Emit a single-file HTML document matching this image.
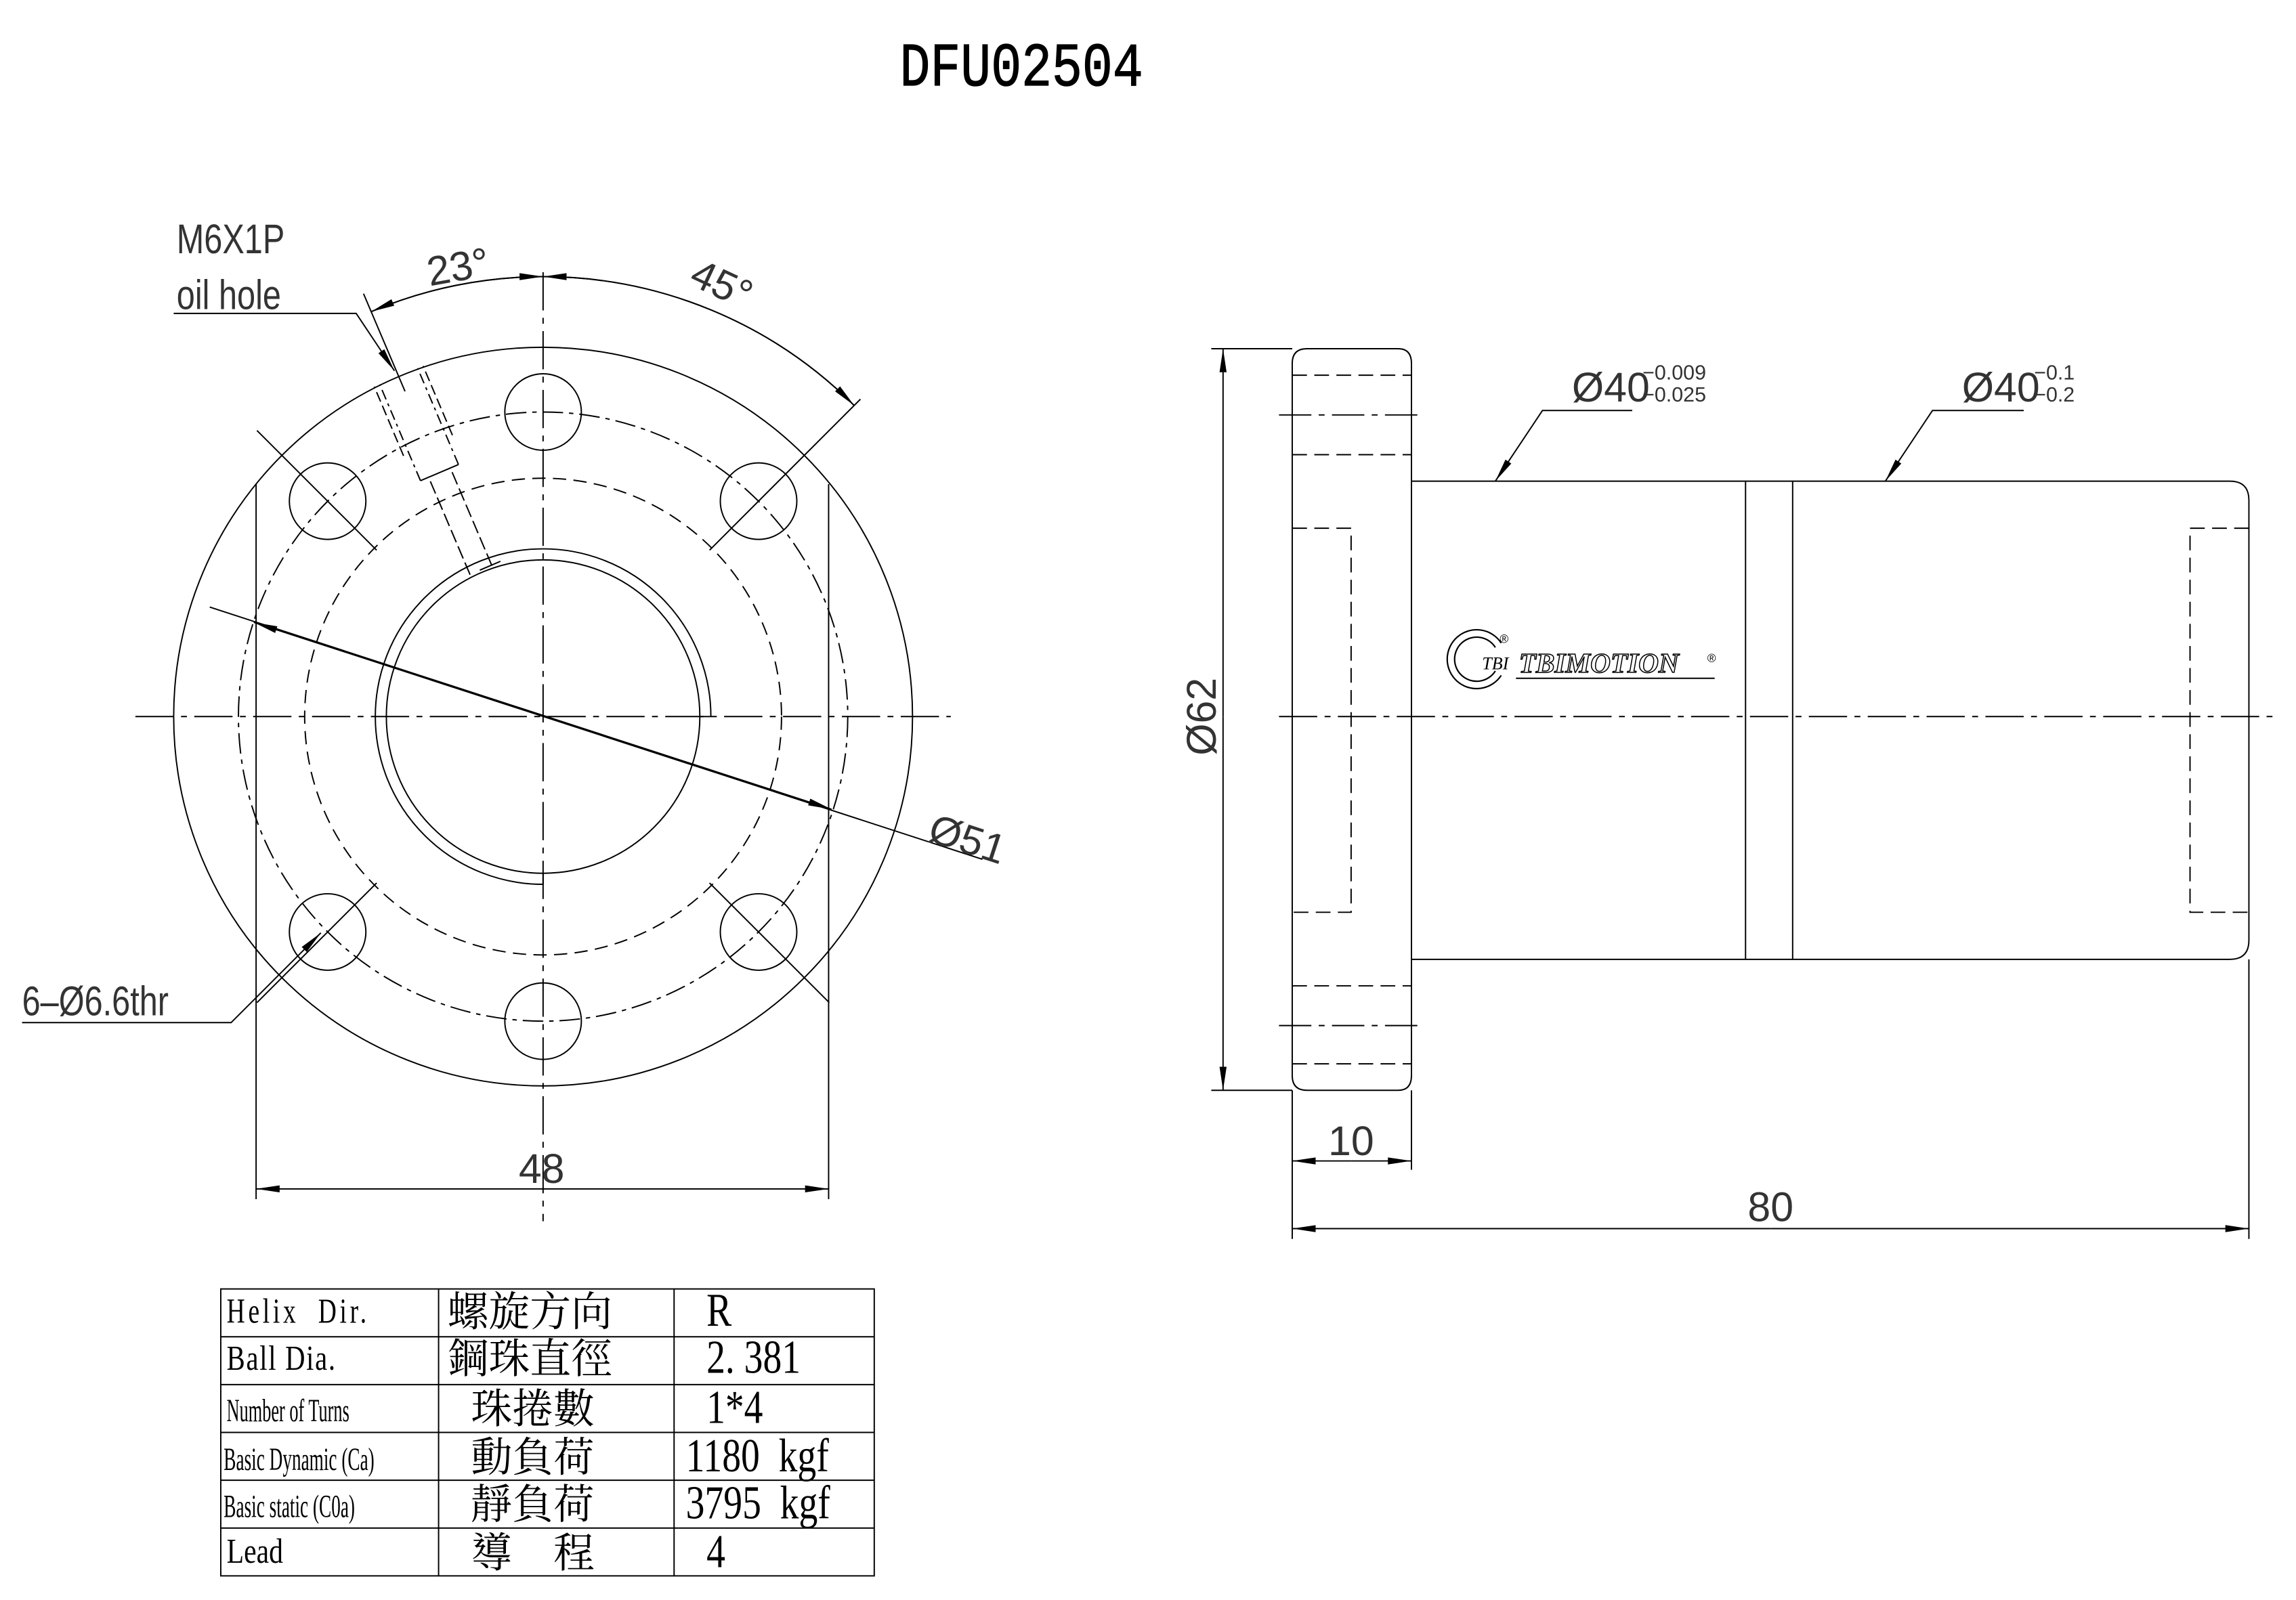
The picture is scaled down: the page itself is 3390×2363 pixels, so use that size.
<!DOCTYPE html>
<html><head><meta charset="utf-8">
<style>
html,body{margin:0;padding:0;background:#fff;}
svg{display:block;}
text{white-space:pre;}
.c{font-family:"Liberation Sans Narrow","Liberation Sans",sans-serif;fill:#333;}
.t{font-family:"Liberation Serif","Noto Serif CJK TC",serif;fill:#000;}
.k{font-family:"Liberation Serif","Noto Serif CJK TC","Noto Sans CJK TC",serif;fill:#000;}
</style></head><body>
<svg width="3390" height="2363" viewBox="0 0 1560 1087.4" preserveAspectRatio="none" xmlns="http://www.w3.org/2000/svg" xml:space="preserve">
<defs>
<marker id="a" viewBox="0 0 16 6" refX="16" refY="3" markerWidth="16" markerHeight="6" markerUnits="userSpaceOnUse" orient="auto-start-reverse">
<path d="M0,0.6 L16,3 L0,5.4 Z" fill="#000"/></marker>
</defs>
<rect width="1560" height="1088" fill="#fff"/>
<text x="694" y="58" text-anchor="middle" font-family="Liberation Mono,monospace" font-size="42" fill="#000" stroke="#000" stroke-width="0.6" transform="translate(694 0) scale(0.82 1) translate(-694 0)">DFU02504</text>

<g fill="none" stroke="#000" stroke-width="0.9">
<circle cx="369" cy="487" r="251"/>
<circle cx="369" cy="487" r="207" stroke-dasharray="14 4 3 4"/>
<circle cx="369" cy="487" r="162" stroke-dasharray="9 5"/>
<circle cx="369" cy="487" r="106.5"/>
<path d="M369,601 A114,114 0 1 1 483,487"/>
<line x1="369" y1="601" x2="369" y2="594"/>
<line x1="476" y1="487" x2="483" y2="487"/>
<circle cx="369" cy="280" r="26"/>
<circle cx="369" cy="694" r="26"/>
<circle cx="222.6" cy="340.6" r="26"/>
<circle cx="515.4" cy="340.6" r="26"/>
<circle cx="222.6" cy="633.4" r="26"/>
<circle cx="515.4" cy="633.4" r="26"/>
<line x1="174" y1="329" x2="174" y2="815"/>
<line x1="563" y1="329" x2="563" y2="815"/>
<line x1="92" y1="487" x2="646" y2="487" stroke-dasharray="26 5 4 5"/>
<line x1="369" y1="185" x2="369" y2="830" stroke-dasharray="26 5 4 5"/>
<line x1="255.9" y1="373.9" x2="174.6" y2="292.6"/>
<line x1="482.1" y1="373.9" x2="584.6" y2="271.3"/>
<line x1="255.9" y1="600.1" x2="174.6" y2="681.4"/>
<line x1="482.1" y1="600.1" x2="563.4" y2="681.4"/>
<line x1="285.7" y1="326.7" x2="258" y2="261.3" stroke-dasharray="7 3 2 3"/>
<line x1="311.5" y1="315.7" x2="283.8" y2="250.3" stroke-dasharray="7 3 2 3"/>
<line x1="274.2" y1="309.8" x2="254.3" y2="262.8" stroke-dasharray="7 3"/>
<line x1="307.4" y1="295.8" x2="287.5" y2="248.8" stroke-dasharray="7 3"/>
<line x1="319.4" y1="390.6" x2="291.2" y2="324.3" stroke-dasharray="9 3"/>
<line x1="334.2" y1="384.4" x2="306" y2="318.1" stroke-dasharray="9 3"/>
<line x1="285.7" y1="326.7" x2="311.5" y2="315.7"/>
<line x1="275.2" y1="266" x2="247" y2="199.6"/>
<line x1="326" y1="387.5" x2="340" y2="381.5"/>
<path d="M369,188 A299,299 0 0 0 252.2,211.8" marker-end="url(#a)"/>
<path d="M252.2,211.8 A299,299 0 0 1 369,188" marker-end="url(#a)"/>
<path d="M580.4,275.6 A299,299 0 0 0 369,188" marker-end="url(#a)"/>
<path d="M369,188 A299,299 0 0 1 580.4,275.6" marker-end="url(#a)"/>
<polyline points="118,213 242,213 268,252" marker-end="url(#a)"/>
<line x1="667.5" y1="584" x2="172.5" y2="423" marker-end="url(#a)"/>
<line x1="142.5" y1="412.6" x2="565" y2="550" marker-end="url(#a)"/>
<polyline points="15,695 157,695 218,634" marker-end="url(#a)"/>
<line x1="369" y1="808" x2="174" y2="808" marker-end="url(#a)"/>
<line x1="369" y1="808" x2="563" y2="808" marker-end="url(#a)"/>

<path d="M888,237 H950 Q959,237 959,247 V731 Q959,741 950,741 H888 Q878,741 878,731 V247 Q878,237 888,237 Z"/>
<path d="M959,327 H1515 Q1528,327 1528,340 V639 Q1528,652 1515,652 H959"/>
<line x1="1186" y1="327" x2="1186" y2="652"/>
<line x1="1218" y1="327" x2="1218" y2="652"/>
<line x1="878" y1="255" x2="959" y2="255" stroke-dasharray="10 5"/>
<line x1="869" y1="282" x2="967" y2="282" stroke-dasharray="22 5 4 5"/>
<line x1="878" y1="309" x2="959" y2="309" stroke-dasharray="10 5"/>
<line x1="878" y1="670" x2="959" y2="670" stroke-dasharray="10 5"/>
<line x1="869" y1="697" x2="967" y2="697" stroke-dasharray="22 5 4 5"/>
<line x1="878" y1="723" x2="959" y2="723" stroke-dasharray="10 5"/>
<polyline points="878,359 918,359 918,620 878,620" stroke-dasharray="10 5"/>
<polyline points="1528,359 1488,359 1488,620 1528,620" stroke-dasharray="10 5"/>
<line x1="869" y1="487" x2="1545" y2="487" stroke-dasharray="26 5 4 5"/>
<line x1="823" y1="237" x2="878" y2="237"/>
<line x1="823" y1="741" x2="878" y2="741"/>
<line x1="831" y1="487" x2="831" y2="237" marker-end="url(#a)"/>
<line x1="831" y1="487" x2="831" y2="741" marker-end="url(#a)"/>
<polyline points="1109,279 1048,279 1016,327" marker-end="url(#a)"/>
<polyline points="1375,279 1313,279 1281,327" marker-end="url(#a)"/>
<line x1="878" y1="741" x2="878" y2="842"/>
<line x1="959" y1="741" x2="959" y2="795"/>
<line x1="1528" y1="652" x2="1528" y2="842"/>
<line x1="918" y1="789" x2="878" y2="789" marker-end="url(#a)"/>
<line x1="918" y1="789" x2="959" y2="789" marker-end="url(#a)"/>
<line x1="1203" y1="835" x2="878" y2="835" marker-end="url(#a)"/>
<line x1="1203" y1="835" x2="1528" y2="835" marker-end="url(#a)"/>
<path d="M1020,437 A20,20 0 1 0 1020,459" stroke-width="1"/>
<path d="M1016,440 A15,15 0 1 0 1016,456" stroke-width="1"/>
<line x1="1030" y1="461" x2="1165" y2="461"/>

<rect x="150" y="876" width="444" height="195"/>
<line x1="298" y1="876" x2="298" y2="1071"/>
<line x1="458" y1="876" x2="458" y2="1071"/>
<line x1="150" y1="908.5" x2="594" y2="908.5"/>
<line x1="150" y1="941" x2="594" y2="941"/>
<line x1="150" y1="973.5" x2="594" y2="973.5"/>
<line x1="150" y1="1006" x2="594" y2="1006"/>
<line x1="150" y1="1038.5" x2="594" y2="1038.5"/>
</g>

<g class="c" font-size="28">
<text x="120" y="172" transform="translate(120 0) scale(0.8 1) translate(-120 0)">M6X1P</text>
<text x="120" y="210" transform="translate(120 0) scale(0.8 1) translate(-120 0)">oil hole</text>
<text x="290" y="192" transform="rotate(-10 305 182)">23°</text>
<text x="470" y="200" transform="rotate(25 485 190)">45°</text>
<text x="632" y="578" transform="rotate(18 652 566)">Ø51</text>
<text x="15" y="690" transform="translate(15 0) scale(0.8 1) translate(-15 0)">6–Ø6.6thr</text>
<text x="368" y="804" text-anchor="middle">48</text>
<text x="918" y="785" text-anchor="middle">10</text>
<text x="1203" y="830" text-anchor="middle">80</text>
<text x="826" y="487" text-anchor="middle" transform="rotate(-90 826 487)">Ø62</text>
<text x="1068" y="273">Ø40</text>
<text x="1333" y="273">Ø40</text>
</g>
<g class="c" font-size="14">
<text x="1116" y="258">−0.009</text>
<text x="1116" y="273">−0.025</text>
<text x="1382" y="258">−0.1</text>
<text x="1382" y="273">−0.2</text>
</g>
<text x="1007" y="455" font-family="Liberation Serif,serif" font-size="12" font-style="italic" fill="#000">TBI</text>
<text x="1032" y="457" font-family="Liberation Serif,serif" font-size="19" font-style="italic" font-weight="bold" fill="#fff" stroke="#000" stroke-width="0.7">TBIMOTION</text>
<text x="1160" y="450" font-size="8" font-family="Liberation Sans,sans-serif">®</text>
<text x="1019" y="437" font-size="8" font-family="Liberation Sans,sans-serif">®</text>

<g class="t" font-size="24">
<text x="154" y="899" transform="translate(154 0) scale(0.72 1) translate(-154 0)" letter-spacing="3">Helix  Dir.</text>
<text x="154" y="931" transform="translate(154 0) scale(0.78 1) translate(-154 0)" letter-spacing="1">Ball Dia.</text>
<text x="154" y="966" font-size="22" transform="translate(154 0) scale(0.55 1) translate(-154 0)">Number of Turns</text>
<text x="152" y="999" font-size="22" transform="translate(152 0) scale(0.57 1) translate(-152 0)">Basic Dynamic (Ca)</text>
<text x="152" y="1031" font-size="22" transform="translate(152 0) scale(0.57 1) translate(-152 0)">Basic static (C0a)</text>
<text x="154" y="1062" transform="translate(154 0) scale(0.8 1) translate(-154 0)">Lead</text>
</g>
<g class="k" font-size="28">
<text x="304" y="901">螺旋方向</text>
<text x="304" y="933">鋼珠直徑</text>
<text x="320" y="967">珠捲數</text>
<text x="320" y="1000">動負荷</text>
<text x="320" y="1032">靜負荷</text>
<text x="320" y="1065">導　程</text>
</g>
<g class="t" font-size="32">
<text x="480" y="901" transform="translate(480 0) scale(0.8 1) translate(-480 0)">R</text>
<text x="480" y="933" transform="translate(480 0) scale(0.8 1) translate(-480 0)">2. 381</text>
<text x="480" y="967" transform="translate(480 0) scale(0.8 1) translate(-480 0)">1*4</text>
<text x="466" y="1000" transform="translate(466 0) scale(0.8 1) translate(-466 0)">1180  kgf</text>
<text x="466" y="1032" transform="translate(466 0) scale(0.8 1) translate(-466 0)">3795  kgf</text>
<text x="480" y="1065" transform="translate(480 0) scale(0.8 1) translate(-480 0)">4</text>
</g>
</svg>
</body></html>
